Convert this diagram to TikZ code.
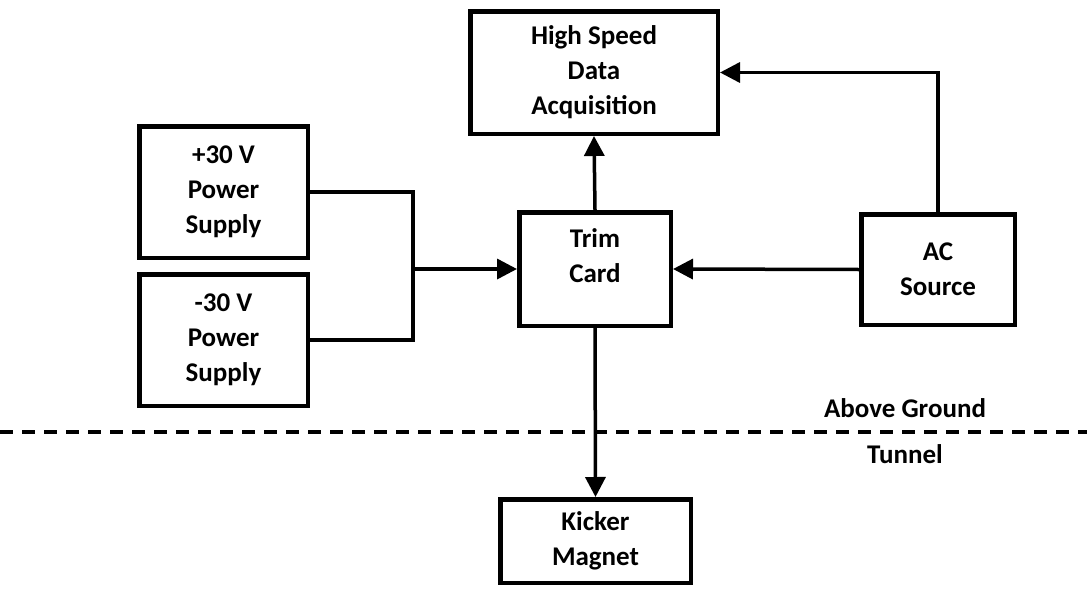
\documentclass[tikz,border=0pt]{standalone}
\usepackage{fontspec}
\setmainfont{Carlito}
\usetikzlibrary{arrows.meta}
\begin{document}
\begin{tikzpicture}[x=1pt,y=-1pt,
  blk/.style={draw=black,line width=4.5pt,fill=white,inner sep=0pt,align=center,
    font=\fontsize{27}{35}\selectfont\bfseries},
  lbl/.style={inner sep=0pt,align=center,font=\fontsize{27}{35}\selectfont\bfseries},
  conn/.style={draw=black,line width=3.5pt},
  arr/.style={conn,-{Triangle[length=20pt,width=20pt]}},
  sep/.style={draw=black,line width=4pt,dash pattern=on 13pt off 9pt}]
\useasboundingbox (0,0) rectangle (1087,589);
\node[blk,minimum width=247.5pt,minimum height=122.5pt] (hsda) at (594,72.5) {High Speed\\Data\\Acquisition};
\node[blk,minimum width=168.5pt,minimum height=131.5pt] (p30) at (223.5,192) {+30 V\\Power\\Supply};
\node[blk,minimum width=168.5pt,minimum height=131.5pt] (m30) at (223.5,340) {-30 V\\Power\\Supply};
\node[blk,minimum width=151.5pt,minimum height=113.5pt] (trim) at (595,269) {};
\node[lbl] (trimtxt) at (595,256) {Trim\\Card};
\node[blk,minimum width=153.5pt,minimum height=110.5pt] (ac) at (938,269.5) {AC\\Source};
\node[blk,minimum width=190.5pt,minimum height=83.5pt] (kick) at (595.5,541) {Kicker\\Magnet};
\coordinate (j) at (413,269);
\coordinate (dl) at (0,432);
\coordinate (dr) at (1087,432);
\draw[sep] (dl) -- (dr);
\node[lbl] (above) at (905,408) {Above Ground};
\node[lbl] (tunnel) at (905,454) {Tunnel};
\draw[conn] (p30.east) -| (j) |- (m30.east);
\draw[arr] (j) -- (trim.west);
\draw[arr] (ac.west) -- (trim.east);
\draw[arr] (ac.north) |- (hsda.east);
\draw[arr] (trim.north) -- (hsda.south);
\draw[arr] (trim.south) -- (kick.north);
\end{tikzpicture}
\end{document}
